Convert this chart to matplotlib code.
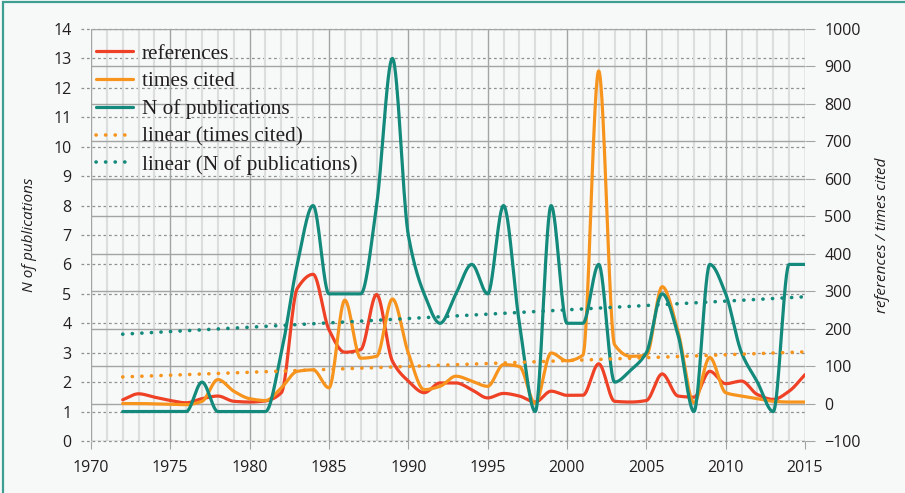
import numpy as np
import matplotlib.pyplot as plt
from matplotlib.patches import Rectangle

years = list(range(1972, 2016))

# N of publications (left axis)
n_publications = [1, 1, 1, 1, 1, 2, 1, 1, 1, 1,
                  3, 6, 8, 5, 5, 5, 8, 13, 7, 5,
                  4, 5, 6, 5, 8, 4, 1, 8, 4, 4,
                  6, 2, 2.4, 3, 5, 3.6, 1, 6, 5, 3,
                  2, 1, 6, 6]

# references and times cited (right axis)
references = [10, 26, 17, 8, 2, 13, 20, 6, 4, 7,
              29, 307, 345, 197, 137, 144, 291, 113, 60, 29,
              55, 55, 37, 15, 27, 20, 4, 33, 22, 22,
              106, 6, 4, 8, 79, 20, 17, 86, 53, 60,
              24, 11, 33, 77]
times_cited = [0, 0, -1, -2, -3, 6, 64, 33, 13, 8,
               42, 86, 90, 42, 276, 121, 126, 279, 135, 37,
               46, 73, 60, 46, 104, 99, 0, 135, 114, 129,
               888, 157, 126, 129, 312, 192, 2, 123, 29, 20,
               13, 6, 4, 4]

# linear trend lines as drawn in the chart (start / end)
trend_years = [1972, 2015]
trend_cited = [71, 138]
trend_n = [3.63, 4.90]

RED = '#ee4125'
ORANGE = '#f7941e'
TEAL = '#138a7b'
BG = '#f7f9f9'


def smooth(x, y, steps=30):
    # monotone cubic (Fritsch-Carlson), no overshoot at flat parts
    x = np.asarray(x, float)
    y = np.asarray(y, float)
    d = np.diff(y) / np.diff(x)
    m = np.zeros_like(y)
    m[0], m[-1] = d[0], d[-1]
    for k in range(1, len(y) - 1):
        if d[k - 1] * d[k] > 0:
            m[k] = 2.0 / (1.0 / d[k - 1] + 1.0 / d[k])
    t = np.linspace(0, 1, steps, endpoint=False)
    h00 = 2 * t ** 3 - 3 * t ** 2 + 1
    h10 = t ** 3 - 2 * t ** 2 + t
    h01 = -2 * t ** 3 + 3 * t ** 2
    h11 = t ** 3 - t ** 2
    xs, ys = [], []
    for k in range(len(x) - 1):
        h = x[k + 1] - x[k]
        xs.extend(x[k] + t * h)
        ys.extend(h00 * y[k] + h10 * h * m[k] + h01 * y[k + 1] + h11 * h * m[k + 1])
    xs.append(x[-1])
    ys.append(y[-1])
    return np.array(xs), np.array(ys)


plt.rcParams['font.family'] = ['Open Sans', 'DejaVu Sans']

fig = plt.figure(figsize=(9.05, 4.93), dpi=100, facecolor=BG)
fig.patches.append(Rectangle((0.0035, -0.05), 1.2, 1.0455, transform=fig.transFigure,
                             fill=False, edgecolor='#3d9e91', lw=1.6))

ax = fig.add_axes([0.1005, 0.1055, 0.7890, 0.8357])
ax.set_facecolor(BG)
ax2 = ax.twinx()

ax.set_xlim(1970, 2015)
ax.set_ylim(0, 14)
ax2.set_ylim(-100, 1000)

ax.set_xticks(range(1970, 2016, 5))
ax.set_xticks(range(1970, 2016), minor=True)
ax.set_yticks(range(0, 15))
ax2.set_yticks(range(-100, 1001, 100))

for s in list(ax.spines.values()) + list(ax2.spines.values()):
    s.set_visible(False)

# vertical grid
ax.grid(which='minor', axis='x', color='#dcdede', lw=1.5)
ax.grid(which='major', axis='x', color='#a3a5a5', lw=1.0)
# dotted grid for left ticks, reaching a bit left of the axis
ax.hlines(ax.get_yticks(), 1969.35, 2015, colors='#8f9191', lw=0.9,
          linestyles=(0, (2.2, 2.2)), clip_on=False, zorder=1)
# solid grid for right ticks
ax2.grid(axis='y', color='#a3a5a5', lw=1.0)
ax2.set_axisbelow(True)

ax.tick_params(axis='y', length=0, pad=14, labelsize=11.5, labelcolor='#231f20')
ax.tick_params(axis='x', which='major', length=6, color='#a3a5a5', pad=8,
               labelsize=11.5, labelcolor='#231f20')
ax.tick_params(axis='x', which='minor', length=0)
ax2.tick_params(axis='y', length=7, color='#a3a5a5', pad=7, labelsize=11.5,
                labelcolor='#231f20')

ax.set_ylabel('N of publications', fontsize=11, style='italic', labelpad=12,
              color='#231f20')
ax2.set_ylabel('references / times cited', fontsize=11, style='italic',
               labelpad=10, color='#231f20')

dots = (0, (0.05, 2.6))

sx, sy = smooth(years, references)
ax2.plot(sx, sy, color=RED, lw=2.3, solid_capstyle='round', label='references')
sx, sy = smooth(years, times_cited)
ax2.plot(sx, sy, color=ORANGE, lw=2.3, solid_capstyle='round', label='times cited')
sx, sy = smooth(years, n_publications)
ax2.plot(sx, sy, color=TEAL, lw=2.3, solid_capstyle='round', label='N of publications',
         transform=ax.transData)
ax2.plot(trend_years, trend_cited, color=ORANGE, lw=2.6, linestyle=dots,
         dash_capstyle='round', label='linear (times cited)')
ax2.plot(trend_years, trend_n, color=TEAL, lw=2.6, linestyle=dots,
         dash_capstyle='round', label='linear (N of publications)',
         transform=ax.transData)

ax2.set_xlim(1970, 2015)
ax2.set_ylim(-100, 1000)

leg = ax2.legend(loc='upper left', bbox_to_anchor=(-0.014, 1.0), frameon=False,
                 prop={'family': 'Liberation Serif', 'size': 15.3},
                 handlelength=1.75, handletextpad=0.4, labelspacing=0.37,
                 borderaxespad=0.3)
for t in leg.get_texts():
    t.set_color('#231f20')

fig.savefig('out.png', dpi=100, facecolor=BG)
